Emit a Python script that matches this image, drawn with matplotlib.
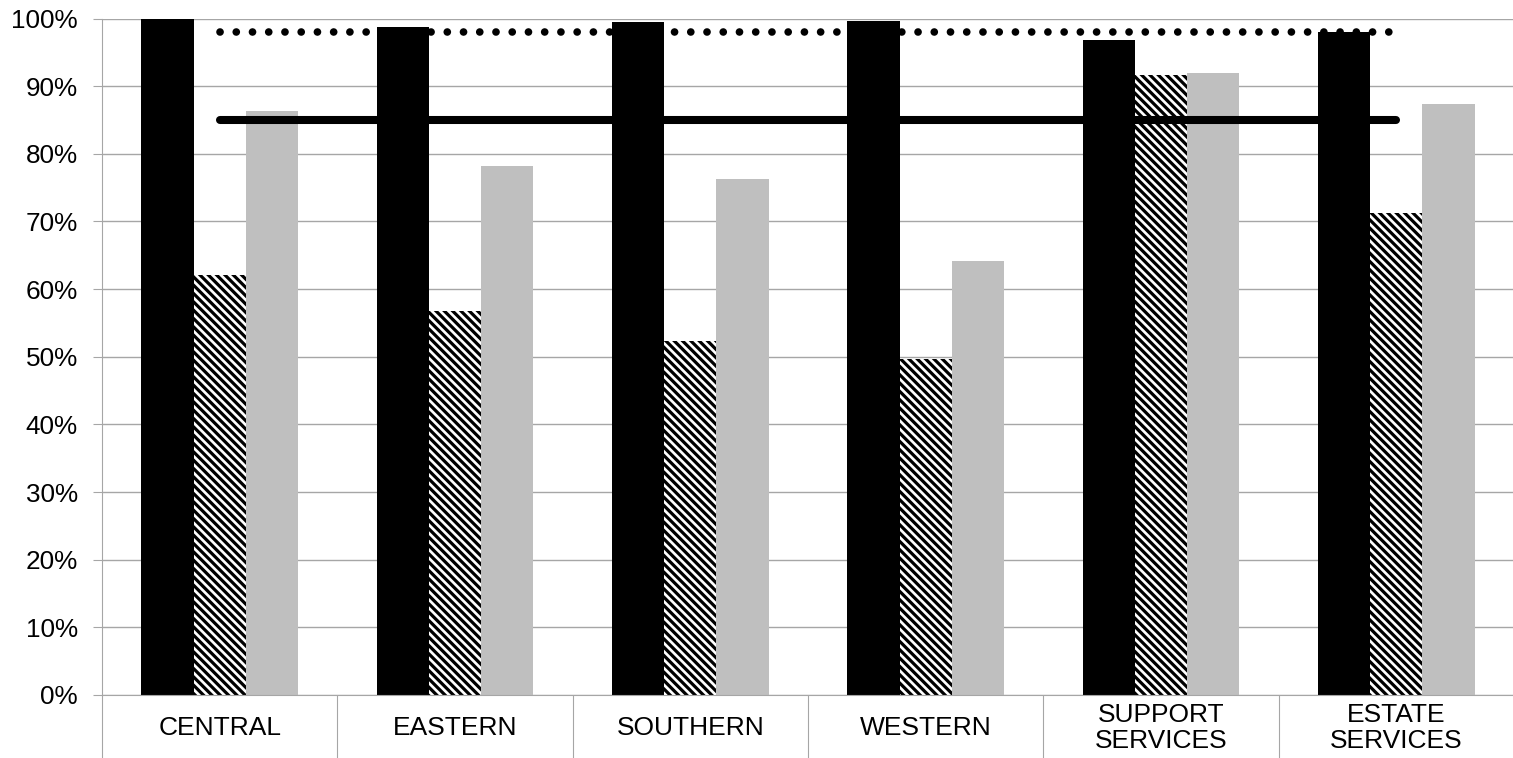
import matplotlib
matplotlib.use("Agg")
import matplotlib.pyplot as plt
import numpy as np

# Categories and series values (percent)
categories = ["CENTRAL", "EASTERN", "SOUTHERN", "WESTERN",
              "SUPPORT\nSERVICES", "ESTATE\nSERVICES"]
series_solid = [100.0, 98.8, 99.5, 99.6, 96.8, 98.0]
series_hatched = [62.1, 56.8, 52.4, 49.6, 91.7, 71.3]
series_grey = [86.4, 78.2, 76.3, 64.2, 91.9, 87.3]
upper_target = [98.0] * len(categories)
lower_target = [85.0] * len(categories)
y_ticks = [0, 10, 20, 30, 40, 50, 60, 70, 80, 90, 100]
y_tick_labels = ["0%", "10%", "20%", "30%", "40%", "50%", "60%",
                 "70%", "80%", "90%", "100%"]

plt.rcParams["font.family"] = ["Liberation Sans", "DejaVu Sans"]
plt.rcParams["hatch.linewidth"] = 2.3

GRID = "#A6A6A6"

fig = plt.figure(figsize=(15.13, 7.58), dpi=100)
ax = fig.add_axes([102 / 1513, 1 - 695 / 758, 1412 / 1513, (695 - 18.5) / 758])

x = np.arange(len(categories))
w = 1 / 4.5

ax.bar(x - w, series_solid, width=w, color="black", linewidth=0, zorder=2)
ax.bar(x, series_hatched, width=w, facecolor="white", edgecolor="black",
       hatch="\\\\\\\\", linewidth=0, zorder=2)
ax.bar(x + w, series_grey, width=w, color="#BFBFBF", linewidth=0, zorder=2)

ax.plot(x, upper_target, color="black", linewidth=5.5,
        linestyle=(0, (0.01, 2.115)), dash_capstyle="round", zorder=4)
ax.plot(x, lower_target, color="black", linewidth=5.8,
        solid_capstyle="round", zorder=4)

ax.set_xlim(-0.5, len(categories) - 0.5)
ax.set_ylim(0, 100)

ax.set_yticks(y_ticks)
ax.set_yticklabels(y_tick_labels)
ax.yaxis.grid(True, color=GRID, linewidth=1.0, zorder=0)
ax.set_axisbelow(True)
ax.tick_params(axis="y", length=6.5, width=0.8, color=GRID, pad=11,
               labelsize=18.8, labelcolor="black")

ax.set_xticks(x)
ax.set_xticklabels(categories, linespacing=1.1)
ax.set_xticks(np.arange(-0.5, len(categories) + 0.5, 1.0), minor=True)
ax.tick_params(axis="x", which="major", length=0, pad=23.8,
               labelsize=19, labelcolor="black")
ax.tick_params(axis="x", which="minor", length=46, width=0.8, color=GRID)
for lbl in ax.get_xticklabels():
    lbl.set_verticalalignment("center")

for side in ("top", "right"):
    ax.spines[side].set_visible(False)
for side in ("left", "bottom"):
    ax.spines[side].set_color(GRID)
    ax.spines[side].set_linewidth(0.8)

fig.savefig("out.png", dpi=100, facecolor="white")
